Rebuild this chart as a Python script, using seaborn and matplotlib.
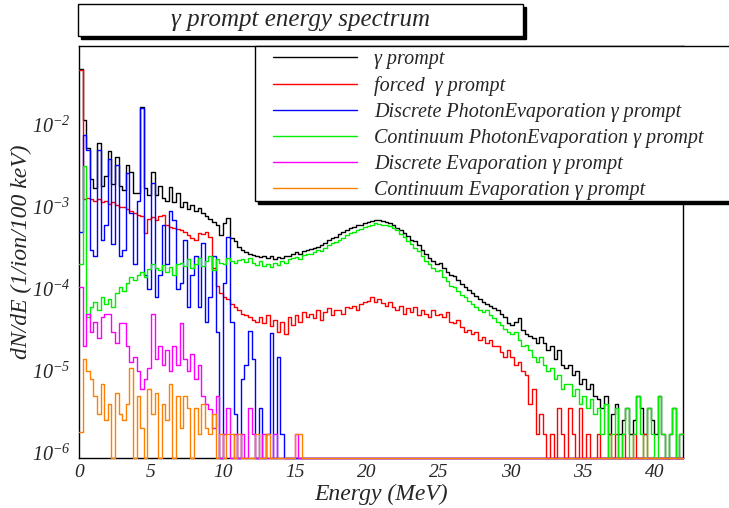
"""
plot.py
Gamma prompt energy spectrum (ROOT-style log histogram) redrawn with seaborn.
"""

import numpy as np
import pandas as pd
import matplotlib
matplotlib.use("Agg")
import matplotlib.pyplot as plt
import matplotlib.ticker as mticker
from matplotlib.patches import Rectangle
from matplotlib.lines import Line2D
import seaborn as sns


BIN_W = 0.25        # MeV per stored bin
E_MAX = 42.0        # MeV
UNIT = 1e-6         # stored values are in units of 1e-6 /ion/100 keV
Y_MIN, Y_MAX = 0.87e-6, 0.092

# values per bin, 4 bins per MeV, one row = 2 MeV
gamma_prompt = [
    48000, 11500, 5200, 2200, 1700, 6100, 1800, 2400,   # 0-2
    4800, 1900, 4100, 1800, 1600, 3300, 2700, 1500,     # 2-4
    1500, 16500, 1700, 1400, 2700, 1400, 1800, 1300,    # 4-6
    1200, 1750, 1150, 1500, 1000, 1150, 950, 1050,      # 6-8
    900, 970, 850, 780, 720, 650, 600, 450,             # 8-10
    640, 730, 420, 380, 330, 300, 280, 270,             # 10-12
    260, 250, 245, 255, 240, 250, 235, 245,             # 12-14
    240, 250, 255, 270, 280, 270, 290, 300,             # 14-16
    310, 320, 330, 340, 360, 400, 420, 430,             # 16-18
    470, 490, 520, 560, 570, 600, 610, 630,             # 18-20
    650, 680, 700, 690, 680, 660, 640, 600,             # 20-22
    560, 520, 480, 440, 400, 380, 340, 300,             # 22-24
    270, 240, 220, 200, 210, 180, 160, 150,             # 24-26
    145, 130, 115, 105, 97, 90, 82, 75,                 # 26-28
    70, 66, 62, 58, 55, 50, 45, 38,                     # 28-30
    36, 40, 44, 32, 28, 27, 25, 22,                     # 30-32
    26, 22, 18, 20, 14, 18, 12, 11,                     # 32-34
    12, 9, 10, 7, 8, 6, 7, 5,                           # 34-36
    4.5, 3.5, 5, 1.7, 3, 4, 1.7, 2.5,                   # 36-38
    3.5, 1.7, 2.5, 5, 3.5, 1.7, 3.5, 2.5,               # 38-40
    1.7, 5, 1.7, 0, 1.7, 3.5, 0, 1.7,                   # 40-42
]

forced_prompt = [
    47000, 1250, 1300, 1250, 1200, 1250, 1150, 1200,
    1100, 1150, 1050, 1000, 1000, 950, 900, 850,
    800, 780, 480, 720, 750, 700, 780, 800,
    600, 570, 560, 540, 520, 490, 460, 420,
    400, 480, 470, 500, 430, 180, 110, 90,
    80, 75, 65, 60, 55, 50, 48, 45,
    42, 40, 45, 38, 48, 35, 42, 30,
    40, 28, 45, 36, 48, 40, 52, 45,
    50, 44, 55, 42, 52, 58, 48, 55,
    56, 50, 60, 58, 62, 55, 65, 70,
    72, 80, 70, 75, 68, 62, 70, 60,
    55, 62, 50, 58, 52, 60, 48, 55,
    50, 45, 55, 48, 50, 46, 52, 40,
    38, 42, 34, 30, 32, 28, 30, 24,
    26, 22, 24, 20, 20, 17, 15, 18,
    15, 12, 13, 10, 9, 4, 6, 1.7,
    3, 1.7, 0, 1.7, 0, 3.5, 1.7, 0,
    3.5, 1.7, 0, 3.5, 0, 1.7, 0, 0,
    1.7, 0, 0, 1.7, 0, 1.7, 0, 1.7,
    0, 0, 1.7, 0, 0, 1.7, 0, 0,
    0, 0, 0, 0, 0, 0, 0, 0,
]

discrete_photon_evap = [
    500, 7600, 5000, 300, 250, 5000, 400, 600,
    3800, 350, 3300, 250, 300, 2600, 850, 200,
    1200, 16000, 150, 100, 1950, 80, 150, 600,
    200, 900, 700, 100, 120, 400, 60, 150,
    250, 60, 360, 40, 80, 250, 30, 0,
    120, 430, 40, 3, 0, 8, 12, 31,
    14, 0, 3.5, 0, 1.7, 29, 0, 15,
    1.7, 0, 0, 0, 0, 0, 0, 0,
]

continuum_photon_evap = [
    200, 3200, 45, 60, 70, 55, 80, 65,
    75, 60, 90, 105, 95, 120, 140, 130,
    150, 160, 140, 175, 200, 180, 170, 195,
    160, 185, 150, 200, 210, 190, 230, 180,
    200, 240, 190, 220, 250, 170, 230, 210,
    200, 240, 220, 210, 225, 230, 215, 240,
    210, 195, 220, 190, 200, 185, 210, 195,
    220, 205, 230, 240, 245, 230, 260, 270,
    265, 280, 300, 290, 320, 340, 360, 370,
    400, 420, 450, 480, 500, 530, 540, 570,
    590, 610, 630, 620, 610, 600, 580, 550,
    520, 470, 430, 390, 350, 320, 290, 250,
    220, 200, 180, 165, 170, 140, 125, 110,
    105, 95, 85, 80, 72, 66, 60, 55,
    52, 55, 48, 44, 40, 36, 33, 30,
    28, 30, 24, 20, 21, 18, 15, 13,
    15, 12, 10, 11, 8, 9, 6, 7,
    7, 5, 6, 4, 5, 3.5, 4.5, 3,
    3.5, 1.7, 4, 0, 1.7, 3.5, 0, 1.7,
    3.5, 0, 1.7, 5, 1.7, 0, 3.5, 1.7,
    0, 5, 1.7, 0, 1.7, 3.5, 0, 1.7,
]

discrete_evap = [
    105, 20, 50, 30, 40, 25, 45, 50,
    50, 30, 22, 38, 38, 20, 13, 15,
    10, 6, 8, 11, 50, 14, 20, 12,
    18, 10, 20, 12, 38, 14, 10, 16,
    8, 12, 5, 4, 3.4, 2, 5, 0,
    1.7, 3.5, 0, 1.7, 0, 1.7, 0, 3.5,
    1.7, 0, 0, 1.7, 0, 0, 1.7, 0,
    0, 0, 0, 0, 1.7, 0, 0, 0,
]

continuum_evap = [
    1.8, 14, 10, 8, 5, 3, 7, 2.5,
    4, 0, 5.4, 3, 2.5, 4, 10.8, 0,
    5, 2, 0, 6, 3, 5.4, 0, 4,
    2.5, 7, 0, 5, 2, 5, 3.5, 0,
    3.5, 1.7, 4, 2, 1.7, 3, 0, 1.7,
    0, 1.7, 1.7, 0, 1.7, 0, 0, 0,
    0, 1.7, 0, 0, 1.7, 0, 0, 0,
    0, 0, 0, 0, 1.7, 1.7, 0, 0,
]

SERIES = [
    ("\u03b3 prompt", gamma_prompt, "black"),
    ("forced  \u03b3 prompt", forced_prompt, "#ff0000"),
    ("Discrete PhotonEvaporation \u03b3 prompt", discrete_photon_evap, "#0000ff"),
    ("Continuum PhotonEvaporation \u03b3 prompt", continuum_photon_evap, "#00ee00"),
    ("Discrete Evaporation \u03b3 prompt", discrete_evap, "#ff00ff"),
    ("Continuum Evaporation \u03b3 prompt", continuum_evap, "#ff8000"),
]


sns.set_style("white")
plt.rcParams["font.family"] = ["Liberation Serif", "DejaVu Serif"]
plt.rcParams["font.style"] = "italic"
plt.rcParams["mathtext.fontset"] = "custom"
plt.rcParams["mathtext.rm"] = "Liberation Serif:italic"
plt.rcParams["mathtext.it"] = "Liberation Serif:italic"

W, H = 729, 508
fig = plt.figure(figsize=(W / 100, H / 100), dpi=100)
ax = fig.add_axes([79 / W, 50 / H, 604 / W, 412 / H])
ax.set_yscale("log")

n_bins = int(round(E_MAX / BIN_W))
edges = np.arange(n_bins + 1) * BIN_W
centers = edges[:-1] + BIN_W / 2
floor = Y_MIN / UNIT

for label, values, color in SERIES:
    v = np.asarray(values, dtype=float)
    v = np.pad(v, (0, n_bins - len(v)))
    v = np.where(v > 0, v, floor) * UNIT   # empty bins sit on the frame
    df = pd.DataFrame({"energy": centers, "w": v})
    sns.histplot(data=df, x="energy", weights="w", bins=list(edges),
                 element="step", fill=False, color=color, linewidth=1.0,
                 ax=ax, zorder=3, clip_on=False)

ax.set_xlim(0, E_MAX)
ax.set_ylim(Y_MIN, Y_MAX)

# ROOT-like frame and ticks
for side in ["left", "right", "top", "bottom"]:
    ax.spines[side].set_visible(True)
    ax.spines[side].set_color("black")
    ax.spines[side].set_linewidth(1.0)
ax.xaxis.set_major_locator(mticker.MultipleLocator(5))
ax.xaxis.set_minor_locator(mticker.MultipleLocator(1))
ax.yaxis.set_major_locator(mticker.LogLocator(base=10, numticks=20))
ax.yaxis.set_minor_locator(mticker.LogLocator(base=10, subs=np.arange(2, 10),
                                              numticks=20))
ax.yaxis.set_major_formatter(mticker.FuncFormatter(
    lambda v, p: f"$10^{{{int(round(np.log10(v)))}}}$"))
ax.yaxis.set_minor_formatter(mticker.NullFormatter())
ax.tick_params(axis="x", which="major", direction="in", length=8.9, width=0.8,
               top=False, labelsize=14, pad=4)
ax.tick_params(axis="x", which="minor", direction="in", length=4.4, width=0.8,
               top=False)
ax.tick_params(axis="y", which="major", direction="in", length=13, width=0.8,
               right=False, labelsize=14.5, pad=6)
ax.tick_params(axis="y", which="minor", direction="in", length=6.5, width=0.8,
               right=False)

ax.set_xlabel("Energy (MeV)", fontsize=17, labelpad=2)
ax.set_ylabel("dN/dE (1/ion/100 keV)", fontsize=17, labelpad=0)

# title box with shadow
tx0, ty0, tx1, ty1 = 78, 4, 523, 36
fig.patches.append(Rectangle(((tx0 + 3) / W, 1 - (ty1 + 3) / H), (tx1 - tx0) / W,
                             (ty1 - ty0) / H, transform=fig.transFigure,
                             facecolor="black", edgecolor="black", zorder=1))
fig.patches.append(Rectangle((tx0 / W, 1 - ty1 / H), (tx1 - tx0) / W,
                             (ty1 - ty0) / H, transform=fig.transFigure,
                             facecolor="white", edgecolor="black", lw=1,
                             zorder=2))
fig.text((tx0 + tx1) / 2 / W, 1 - (ty0 + ty1) / 2 / H,
         "\u03b3 prompt energy spectrum", ha="center", va="center",
         fontsize=18, zorder=3)

# legend box with shadow
lx0, ly0, lx1, ly1 = 255, 46, 740, 201
fig.patches.append(Rectangle(((lx0 + 3) / W, 1 - (ly1 + 3) / H), (lx1 - lx0) / W,
                             (ly1 - ly0) / H, transform=fig.transFigure,
                             facecolor="black", edgecolor="black", zorder=4))
fig.patches.append(Rectangle((lx0 / W, 1 - ly1 / H), (lx1 - lx0) / W,
                             (ly1 - ly0) / H, transform=fig.transFigure,
                             facecolor="white", edgecolor="black", lw=1,
                             zorder=5))
handles = [Line2D([], [], color=c, lw=1.0) for _, _, c in SERIES]
labels = [lab for lab, _, _ in SERIES]
leg = fig.legend(handles, labels, loc="upper left",
                 bbox_to_anchor=(273 / W, 1 - 50 / H), frameon=False,
                 fontsize=14.5, handlelength=4.15, handletextpad=0.87,
                 labelspacing=0.34, borderpad=0, borderaxespad=0)
leg.set_zorder(6)

fig.savefig("out.png", dpi=100)
